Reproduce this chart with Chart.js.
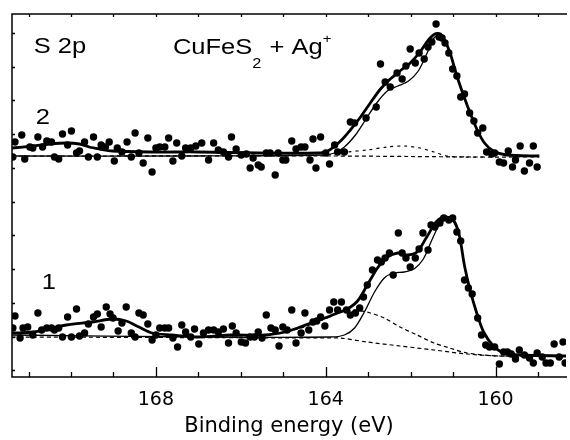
<!DOCTYPE html>
<html><head><meta charset="utf-8">
<script src="https://cdn.jsdelivr.net/npm/chart.js@4.4.1/dist/chart.umd.min.js"></script>
<style>html,body{margin:0;padding:0;background:#fff}</style>
</head><body>
<canvas id="c" width="570" height="440"></canvas>
<script>
// ---------- DATA (binding energy eV, intensity a.u.) ----------
const xTickLabels = [168, 164, 160];
const yTickValues = [0, 33, 67, 101, 135, 168, 202, 236, 270, 303, 337];

// spectrum 2 (upper) measured points
const s2Points = [
[171.37,213],[171.32,228],[171.16,235],[171.09,211],[170.97,223],[170.90,222],[170.78,233],[170.67,223],[170.57,229],[170.46,228],[170.39,213],[170.29,211],[170.20,236],[170.08,225],[169.99,239],[169.87,217],[169.80,219],[169.68,228],[169.59,213],[169.47,233],[169.38,213],[169.29,225],[169.19,223],[169.10,228],[168.98,209],[168.91,222],[168.80,218],[168.68,228],[168.58,213],[168.49,237],[168.40,217],[168.30,207],[168.19,232],[168.09,198],[168.00,222],[167.91,223],[167.79,223],[167.70,232],[167.60,209],[167.51,227],[167.39,214],[167.30,222],[167.18,222],[167.06,224],
[166.92,227],[166.76,210],[166.64,227],[166.53,220],[166.41,218],[166.29,213],[166.22,233],[166.11,221],[165.99,215],[165.87,216],[165.78,202],[165.71,212],[165.59,205],[165.52,203],[165.40,217],[165.31,217],[165.19,195],[165.12,217],[165.01,210],[164.94,210],[164.80,229],[164.70,221],[164.58,223],[164.49,223],[164.37,210],[164.30,231],[164.23,202],[164.12,233],[164.00,217],[163.91,206],[163.79,225],[163.72,218],[163.56,218],[163.42,248],[163.32,247],
[163.05,252],[162.81,263],[162.71,306],[162.60,288],[162.48,283],[162.32,297],[162.20,291],[162.11,304],[162.01,321],[161.89,307],[161.80,317],[161.68,311],[161.59,323],[161.50,328],[161.40,346],[161.33,333],[161.26,332],[161.19,327],[161.10,317],[161.01,301],[160.91,294],[160.82,273],[160.73,276],[160.61,257],[160.51,249],[160.42,237],[160.30,242],[160.21,218],[160.09,216],[160.02,217],[159.91,208],[159.81,207],[159.70,219],[159.60,203],[159.53,210],[159.42,224],[159.32,199],[159.20,207],[159.11,224],[159.02,203]
];
const s2Envelope = [[171.39,222],[170.90,224],[170.50,226],[170.11,227],[169.80,226],[169.57,223],[169.33,221],[169.03,219],[168.16,218],[166.99,218],[165.59,217],[164.19,217],[163.95,219],[163.65,229],[163.42,240],[163.18,253],[162.95,267],[162.71,281],[162.48,291],[162.25,299],[162.01,307],[161.78,318],[161.58,330],[161.43,336],[161.30,336],[161.19,329],[161.07,317],[160.91,294],[160.74,273],[160.58,255],[160.42,239],[160.26,227],[160.05,219],[159.74,215],[158.97,214]];
const s2Main = [[171.39,214],[166.99,214],[164.05,215],[163.80,217],[163.56,223],[163.30,235],[163.05,251],[162.80,267],[162.55,279],[162.30,284],[162.05,289],[161.82,299],[161.60,318],[161.45,332],[161.30,336],[161.19,329],[161.07,317],[160.91,294],[160.74,273],[160.58,255],[160.42,239],[160.26,227],[160.05,219],[159.74,215],[158.97,214]];
const s2Second = [[163.95,215],[163.49,218],[163.02,220],[162.55,223],[162.15,224],[161.78,222],[161.45,218],[161.15,214],[160.80,213],[160.21,213]];
const s2Background = [[171.39,214],[163.95,214],[162.00,213.5],[160.50,213],[158.97,213]];

// spectrum 1 (lower) measured points
const s1Points = [
[171.37,42],[171.32,54],[171.20,32],[171.13,42],[171.02,43],[170.90,35],[170.78,57],[170.69,40],[170.57,42],[170.46,42],[170.39,40],[170.29,42],[170.20,33],[170.08,53],[169.99,33],[169.87,61],[169.80,34],[169.68,37],[169.59,46],[169.47,53],[169.38,56],[169.29,43],[169.17,63],[169.08,56],[169.01,52],[168.89,39],[168.80,47],[168.70,63],[168.58,37],[168.49,33],[168.40,57],[168.30,55],[168.19,46],[168.09,30],[168.00,35],[167.91,42],[167.79,42],[167.70,42],[167.60,32],[167.49,23],[167.39,45],[167.30,38],[167.18,33],[167.09,41],[166.99,26],
[166.88,37],[166.76,40],[166.64,40],[166.53,38],[166.41,41],[166.29,27],[166.20,44],[166.11,37],[165.99,28],[165.89,27],[165.78,33],[165.68,33],[165.59,38],[165.50,32],[165.40,55],[165.29,42],[165.19,40],[165.10,24],[165.01,43],[164.91,40],[164.80,60],[164.70,27],[164.58,37],[164.49,57],[164.40,40],[164.30,48],[164.21,49],[164.12,53],[164.02,44],[163.91,60],[163.81,68],[163.72,60],[163.63,68],[163.51,60],[163.42,55],[163.30,57],[163.20,62],[163.11,73],[163.02,85],
[162.90,100],[162.78,110],[162.69,108],[162.60,112],[162.50,117],[162.41,95],[162.29,137],[162.20,117],[162.11,112],[162.01,103],[161.89,112],[161.80,121],[161.71,137],[161.59,120],[161.52,145],[161.43,143],[161.31,147],[161.22,152],[161.10,150],[161.01,152],[160.91,138],[160.82,129],[160.73,90],[160.64,82],[160.55,76],[160.42,52],[160.33,35],[160.23,25],[160.14,23],[160.02,23],[159.91,6],[159.81,18],[159.72,18],[159.63,16],[159.53,11],[159.44,20],[159.32,15],[159.20,12],[159.11,7],[159.02,17],[158.90,13],[158.81,7],[158.71,7],[158.62,26],[158.50,13],[158.41,28],[158.36,7]
];
const s1Envelope = [[171.39,37],[170.90,38],[170.11,45],[169.50,48],[169.03,51],[168.70,49],[168.40,43],[168.09,37],[167.63,35],[166.99,33],[166.22,35],[165.43,35],[164.96,38],[164.66,42],[164.35,47],[164.02,52],[163.72,57],[163.49,61],[163.25,69],[163.02,85],[162.78,102],[162.55,113],[162.30,117],[162.08,115],[161.85,118],[161.62,133],[161.40,148],[161.20,153],[161.00,150],[160.86,136],[160.73,104],[160.60,80],[160.45,58],[160.28,38],[160.05,24],[159.80,17],[159.40,15],[158.34,14]];
const s1Main = [[171.39,35],[166.99,33],[163.88,33],[163.56,35],[163.32,42],[163.09,58],[162.85,78],[162.62,92],[162.40,97],[162.15,98],[161.92,101],[161.70,111],[161.50,130],[161.30,147],[161.15,152],[161.00,150],[160.86,136],[160.73,104],[160.60,80],[160.45,58],[160.28,38],[160.05,24],[159.80,17],[159.40,15],[158.34,14]];
const s1Second = [[166.22,34],[165.43,35],[164.66,41],[164.02,51],[163.65,58],[163.30,60],[162.95,57],[162.62,52],[162.25,43],[161.85,35],[161.45,27],[161.08,22],[160.67,17],[159.91,14],[158.34,14]];
const s1Background = [[171.39,33],[163.88,32],[163.65,32],[163.02,28],[162.25,24],[161.45,20],[160.67,16],[159.91,14],[158.34,14]];

// ---------- helpers ----------
const toXY = arr => arr.map(([x, y]) => ({x, y}));
const lineDs = (arr, width, dash) => ({
  type: 'line', data: toXY(arr), borderColor: '#000', borderWidth: width,
  borderDash: dash || [], pointRadius: 0, fill: false,
  tension: 0.3, order: 0
});
const dotDs = arr => ({
  type: 'scatter', data: toXY(arr), backgroundColor: '#000', borderWidth: 0,
  pointRadius: 3.7, order: 1
});

const annotations = [
  {parts: [{t: 'S 2p'}], x: 170.88, y: 317},
  {parts: [{t: 'CuFeS'}, {t: '2', sub: true}, {t: ' + Ag'}, {t: '+', sup: true}], x: 167.60, y: 316},
  {parts: [{t: '2'}], x: 170.83, y: 246},
  {parts: [{t: '1'}], x: 170.69, y: 81}
];

const framePlugin = {
  id: 'frame',
  afterDatasetsDraw(chart) {
    const {ctx, chartArea: {left, right, top, bottom}, scales: {x, y}} = chart;
    ctx.save();
    ctx.strokeStyle = '#000';
    ctx.lineWidth = 1.5;
    ctx.beginPath();
    ctx.moveTo(right + 1, top); ctx.lineTo(left, top); ctx.lineTo(left, bottom); ctx.lineTo(right + 1, bottom);
    ctx.stroke();
    ctx.lineWidth = 1.3;
    ctx.beginPath();
    x.ticks.forEach(t => {
      const px = Math.round(x.getPixelForValue(t.value)) + 0.5;
      const major = xTickLabels.includes(t.value);
      ctx.moveTo(px, bottom); ctx.lineTo(px, bottom - (major ? 10 : 5));
      ctx.moveTo(px, top); ctx.lineTo(px, top + 3);
    });
    yTickValues.forEach(v => {
      const py = Math.round(y.getPixelForValue(v)) + 0.5;
      ctx.moveTo(left, py); ctx.lineTo(left + 3, py);
    });
    ctx.stroke();
    // annotations (text slightly widened like the original)
    const sx = 1.16;
    ctx.fillStyle = '#000';
    ctx.textBaseline = 'alphabetic';
    annotations.forEach(a => {
      let cx = x.getPixelForValue(a.x);
      const by = y.getPixelForValue(a.y);
      a.parts.forEach(p => {
        const size = p.sub ? 14 : (p.sup ? 13 : 22);
        const dy = p.sub ? 14 : (p.sup ? -11 : 0);
        ctx.save();
        ctx.font = size + 'px "Liberation Sans", Arial, sans-serif';
        ctx.translate(cx, by + dy);
        ctx.scale(sx, 1);
        ctx.fillText(p.t, 0, 0);
        const w = ctx.measureText(p.t).width * sx;
        ctx.restore();
        cx += w + (p.sub ? 1 : 0);
      });
    });
    ctx.restore();
  }
};

new Chart(document.getElementById('c'), {
  type: 'scatter',
  data: {
    datasets: [
      lineDs(s2Envelope, 2.8),
      lineDs(s2Main, 1.3),
      lineDs(s2Second, 1.2, [3, 4]),
      lineDs(s2Background, 1.2, [4, 3]),
      lineDs(s1Envelope, 2.8),
      lineDs(s1Main, 1.3),
      lineDs(s1Second, 1.2, [4, 3]),
      lineDs(s1Background, 1.2, [4, 3]),
      dotDs(s2Points),
      dotDs(s1Points)
    ]
  },
  options: {
    responsive: false,
    animation: false,
    events: [],
    layout: {padding: {left: 12, top: 14, right: 0, bottom: 0}},
    plugins: {legend: {display: false}, tooltip: {enabled: false}},
    scales: {
      x: {
        type: 'linear', reverse: true, min: 158.34, max: 171.39,
        grid: {display: false, drawTicks: false},
        border: {display: false},
        ticks: {
          stepSize: 1, autoSkip: false, maxRotation: 0, includeBounds: false,
          padding: 12, color: '#000',
          font: {family: '"DejaVu Sans", sans-serif', size: 19},
          callback: v => xTickLabels.includes(v) ? String(v) : ''
        },
        title: {
          display: true, text: 'Binding energy (eV)', color: '#000',
          font: {family: '"DejaVu Sans", sans-serif', size: 21},
          padding: {top: 0, bottom: 1}
        },
        afterFit: s => { s.height = 63; }
      },
      y: {type: 'linear', min: -7, max: 356, display: false}
    }
  },
  plugins: [framePlugin]
});
</script>
</body></html>
